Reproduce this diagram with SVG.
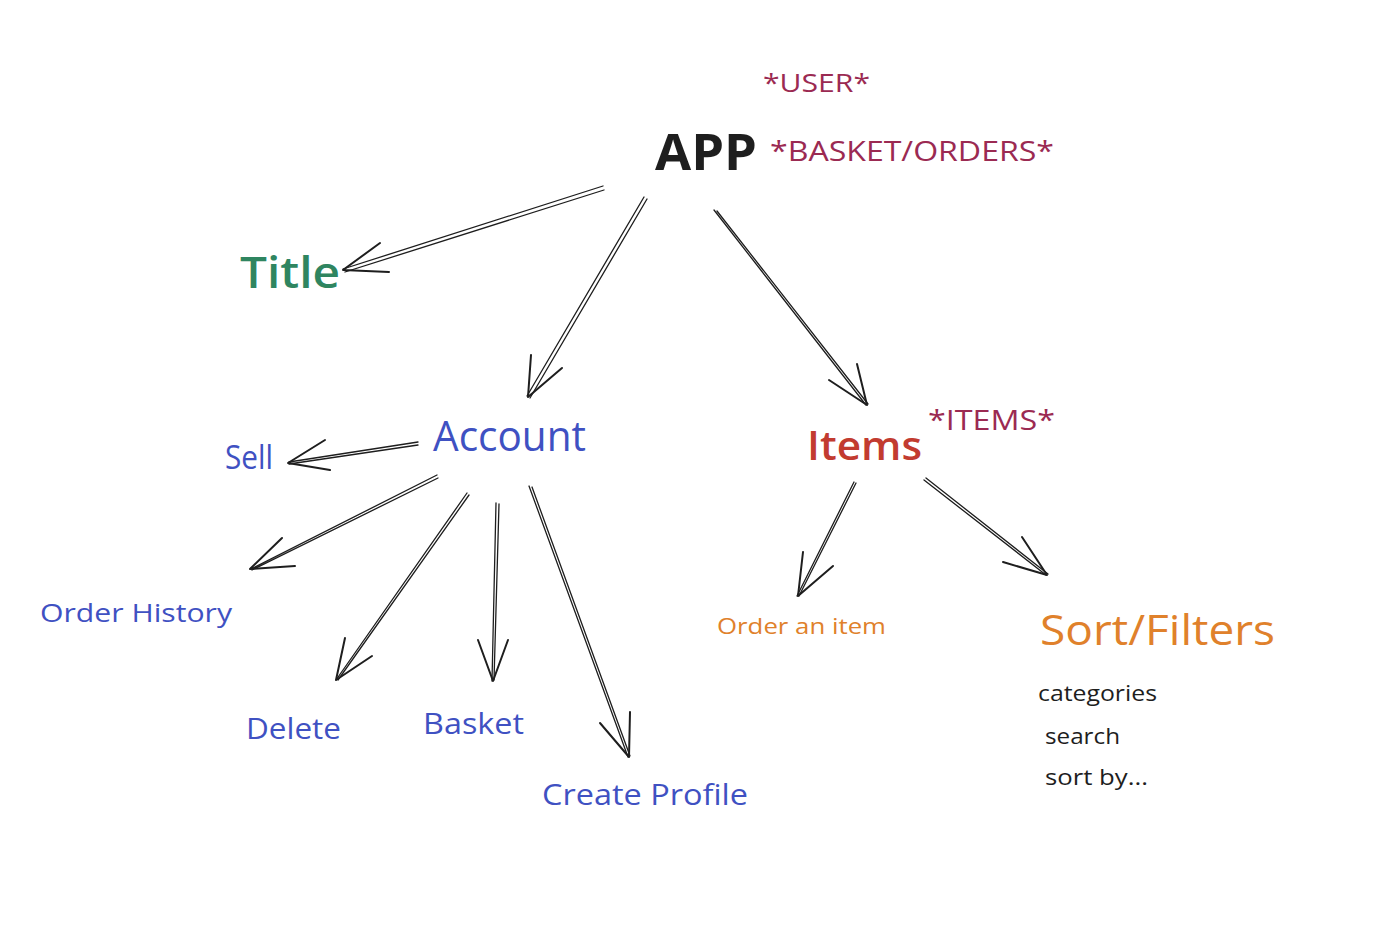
<svg xmlns="http://www.w3.org/2000/svg" width="1394" height="944" viewBox="0 0 1394 944">
<style>
text{font-family:"Open Sans","Liberation Sans",sans-serif}
.ln{fill:none;stroke:#1e1e1e;stroke-width:1.3;stroke-linecap:round;stroke-linejoin:round}
.hd{fill:none;stroke:#1e1e1e;stroke-width:2;stroke-linecap:round;stroke-linejoin:round}
.blue{fill:#3f51c2}
.tag{fill:#9b2a52}
.org{fill:#e0812b}
.blk{fill:#1e1e1e}
</style>
<rect width="1394" height="944" fill="#ffffff"/>
<g id="connectors">
<path class="ln" d="M603,186 L343,269 M604,190 L345,272"/>
<path class="hd" d="M380,243 L343,270 L389,272"/>
<path class="ln" d="M644,197 L527,396 M647,199 L530,398"/>
<path class="hd" d="M531,355 L528,397 L562,368"/>
<path class="ln" d="M714,210 L866,405 M717,211 L868,404"/>
<path class="hd" d="M829,380 L867,405 L857,364"/>
<path class="ln" d="M418,442 L289,462 M418,445 L289,464"/>
<path class="hd" d="M325,440 L288,463 L330,470"/>
<path class="ln" d="M437,475 L251,569 M438,478 L252,570"/>
<path class="hd" d="M282,538 L250,569 L295,566"/>
<path class="ln" d="M467,493 L336,680 M469,495 L338,680"/>
<path class="hd" d="M345,638 L336,680 L372,656"/>
<path class="ln" d="M496,503 L492,681 M499,504 L494,680"/>
<path class="hd" d="M478,640 L493,681 L508,640"/>
<path class="ln" d="M529,486 L628,757 M532,487 L630,756"/>
<path class="hd" d="M600,723 L629,757 L630,712"/>
<path class="ln" d="M854,482 L797,596 M856,483 L799,596"/>
<path class="hd" d="M803,552 L798,596 L833,566"/>
<path class="ln" d="M924,480 L1046,575 M926,478 L1048,574"/>
<path class="hd" d="M1003,562 L1047,575 L1022,537"/>
</g>
<g id="app"><text x="655" y="170" font-size="50" font-weight="700" class="blk" textLength="102" lengthAdjust="spacingAndGlyphs">APP</text></g>
<g id="user"><text x="763" y="92" font-size="26" class="tag" textLength="107" lengthAdjust="spacingAndGlyphs">*USER*</text></g>
<g id="basket-orders"><text x="770" y="161" font-size="28" class="tag" textLength="284" lengthAdjust="spacingAndGlyphs">*BASKET/ORDERS*</text></g>
<g id="title"><text x="240" y="288" font-size="44" font-weight="600" fill="#2f8560" textLength="100" lengthAdjust="spacingAndGlyphs">Title</text></g>
<g id="account"><text x="433" y="451" font-size="42" class="blue" textLength="153" lengthAdjust="spacingAndGlyphs">Account</text></g>
<g id="sell"><text x="225" y="469" font-size="32" class="blue" textLength="48" lengthAdjust="spacingAndGlyphs">Sell</text></g>
<g id="items"><text x="807" y="460" font-size="40" font-weight="600" fill="#c23b30" textLength="115" lengthAdjust="spacingAndGlyphs">Items</text></g>
<g id="items-tag"><text x="928" y="430" font-size="27" class="tag" textLength="127" lengthAdjust="spacingAndGlyphs">*ITEMS*</text></g>
<g id="order-history"><text x="40" y="622" font-size="26" class="blue" textLength="192" lengthAdjust="spacingAndGlyphs">Order History</text></g>
<g id="delete"><text x="246" y="739" font-size="30" class="blue" textLength="95" lengthAdjust="spacingAndGlyphs">Delete</text></g>
<g id="basket"><text x="423" y="734" font-size="30" class="blue" textLength="101" lengthAdjust="spacingAndGlyphs">Basket</text></g>
<g id="create-profile"><text x="542" y="805" font-size="30" class="blue" textLength="206" lengthAdjust="spacingAndGlyphs">Create Profile</text></g>
<g id="order-item"><text x="717" y="634" font-size="22" class="org" textLength="169" lengthAdjust="spacingAndGlyphs">Order an item</text></g>
<g id="sort-filters"><text x="1040" y="645" font-size="42" class="org" textLength="235" lengthAdjust="spacingAndGlyphs">Sort/Filters</text>
<text x="1038" y="701" font-size="22" class="blk" textLength="119" lengthAdjust="spacingAndGlyphs">categories</text>
<text x="1045" y="744" font-size="22" class="blk" textLength="75" lengthAdjust="spacingAndGlyphs">search</text>
<text x="1045" y="785" font-size="22" class="blk" textLength="103" lengthAdjust="spacingAndGlyphs">sort by...</text></g>
</svg>
